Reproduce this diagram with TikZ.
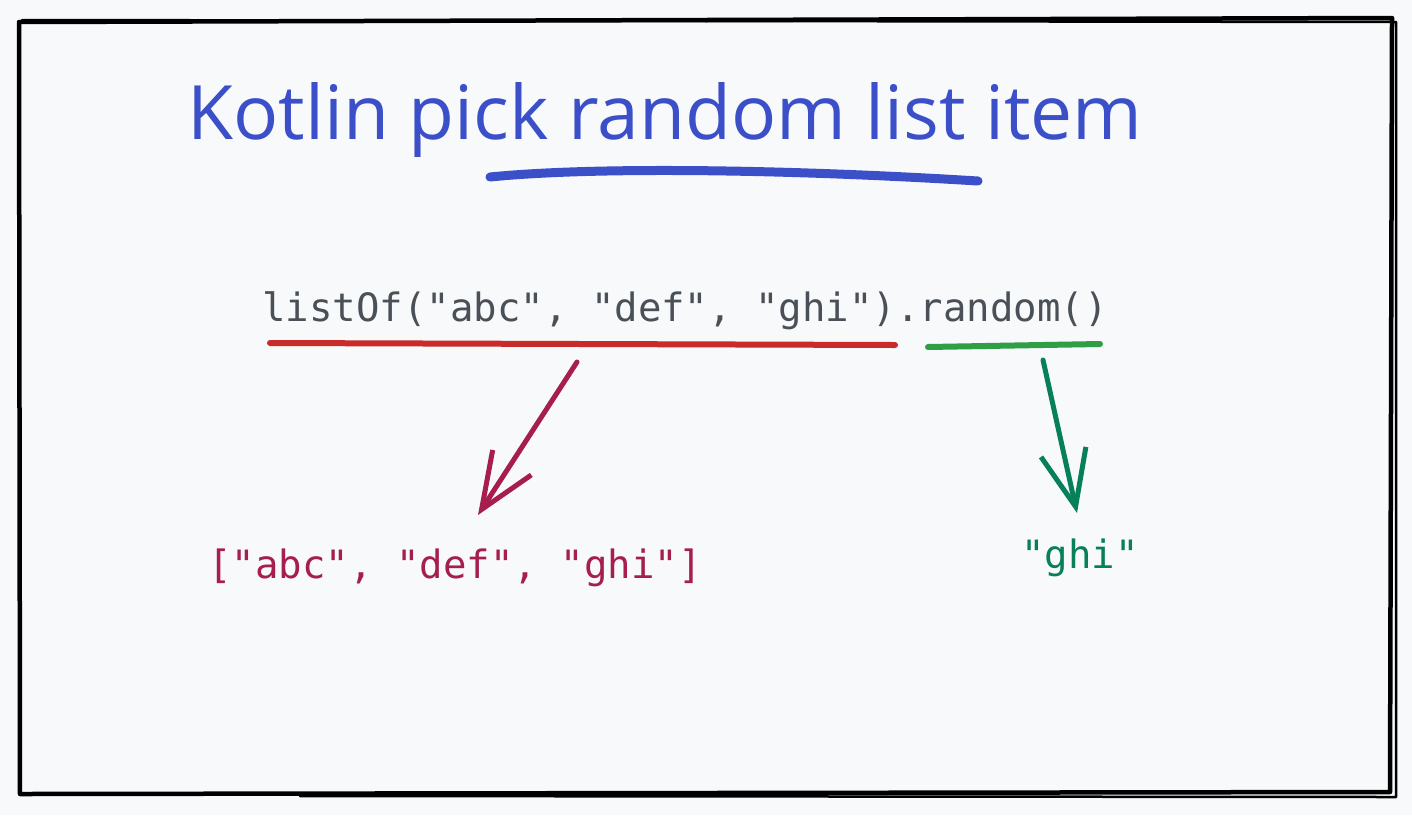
\documentclass[tikz,border=0pt]{standalone}
\usepackage{fontspec}
\usepackage{xcolor}
\usetikzlibrary{positioning,arrows.meta,calc}
\setmainfont{Open Sans}
\newfontfamily\codefont{DejaVu Sans Mono}
\definecolor{paper}{HTML}{F8F9FA}
\definecolor{titleblue}{HTML}{3B4FC8}
\definecolor{codegray}{HTML}{495057}
\definecolor{underred}{HTML}{C92A2A}
\definecolor{undergreen}{HTML}{2F9E44}
\definecolor{listwine}{HTML}{A61E4D}
\definecolor{pickgreen}{HTML}{087F5B}

\begin{document}
\begin{tikzpicture}[
  x=1pt, y=-1pt,
  line cap=round, line join=round,
  frame/.style={draw=black, line width=4.5pt},
  title/.style={text=titleblue, font=\fontsize{75}{80}\selectfont, inner sep=0pt},
  code/.style={text=codegray, font=\codefont\fontsize{39}{46}\selectfont, inner sep=0pt},
  outcome/.style={font=\codefont\fontsize{39}{46}\selectfont, inner sep=0pt},
  underscore/.style={line width=6pt},
  sketcharrow/.style={-{Straight Barb[length=56pt, width=46pt, line width=5pt]}, line width=5pt}
]
\useasboundingbox[fill=paper] (0,0) rectangle (1412,815);

% sketchy frame
\draw[frame] (19,22) -- (1392,18) -- (1390,792) -- (20,794) -- cycle;
\draw[frame, line width=2.5pt] (22,20) -- (1396,22) -- (1396,797) -- (300,796);

% title and its underline
\node[title] (T) at (665,120) {Kotlin pick random list item};
\draw[titleblue, line width=9pt] (490,177) .. controls (600,166) and (800,170) .. (978,181);

% code line
\node[code] (C) at (685,311) {listOf("abc", "def", "ghi").random()};
\coordinate (RL) at (270,343);
\coordinate (RR) at (895,345);
\coordinate (GL) at (928,347);
\coordinate (GR) at (1100,344);
\draw[underscore, underred] (RL) -- (RR);
\draw[underscore, undergreen] (GL) -- (GR);

% results
\node[outcome, text=listwine] (L) at (455,568) {["abc", "def", "ghi"]};
\node[outcome, text=pickgreen] (P) at (1080,558) {"ghi"};

\coordinate (LS) at (577,362);
\coordinate (LE) at (478,515);
\coordinate (PS) at (1043,360);
\coordinate (PE) at (1077,513);
\draw[sketcharrow, listwine] (LS) -- (LE);
\draw[sketcharrow, pickgreen] (PS) -- (PE);

\end{tikzpicture}
\end{document}
